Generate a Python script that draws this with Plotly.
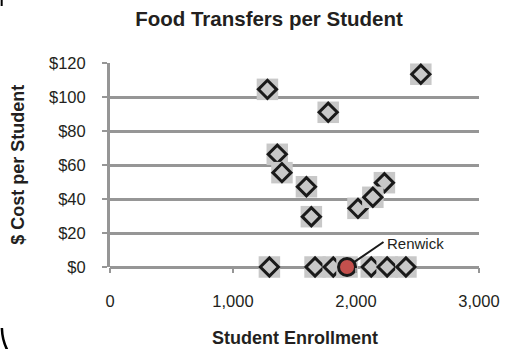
import plotly.graph_objects as go

# Enrollment vs. food-transfer cost per student, one entry per school
enrollment = [1280, 1296, 1360, 1398, 1597, 1637, 1667, 1774, 1815, 1927,
              2016, 2231, 2137, 2124, 2253, 2406, 2527]
cost_per_student = [104.5, 0, 66.3, 55.5, 47.2, 29.6, 0, 91.0, 0, 0,
                    34.5, 49.6, 41.0, 0, 0, 0, 113.4]
school = ["", "", "", "", "", "", "", "", "", "Renwick",
          "", "", "", "", "", "", ""]

y_ticks = [0, 20, 40, 60, 80, 100, 120]
y_tick_text = ["$0", "$20", "$40", "$60", "$80", "$100", "$120"]
x_ticks = [0, 1000, 2000, 3000]
x_tick_text = ["0", "1,000", "2,000", "3,000"]

W, H = 512, 349
L, R, T, B = 110, 30, 63, 82
PW, PH = W - L - R, H - T - B

GRID = "#969696"
INK = "#231f20"
FONT = "Liberation Sans, Arial, sans-serif"


def px(x):
    return (x - L) / PW


def py(y):
    return (H - B - y) / PH


fig = go.Figure()

fig.update_layout(
    width=W, height=H, autosize=False,
    margin=dict(l=L, r=R, t=T, b=B, pad=0),
    paper_bgcolor="white", plot_bgcolor="white",
    font=dict(family=FONT, size=16, color=INK),
    title=dict(text="<b>Food Transfers per Student</b>", x=269 / W, xref="container",
               xanchor="center", y=1 - 19 / H, yref="container", yanchor="middle",
               font=dict(family=FONT, size=20.5, color=INK)),
    xaxis=dict(range=[0, 3000], tickvals=x_ticks, ticktext=x_tick_text,
               showgrid=False, zeroline=False, showline=False,
               ticks="outside", ticklen=5, tickwidth=2, tickcolor=GRID,
               ticklabelstandoff=14, tickfont=dict(size=16.5, color=INK)),
    yaxis=dict(range=[0, 120], tickvals=y_ticks, ticktext=y_tick_text,
               showgrid=True, gridcolor=GRID, gridwidth=2.5,
               zeroline=True, zerolinecolor=GRID, zerolinewidth=2.5,
               showline=True, linecolor=GRID, linewidth=3,
               ticks="outside", ticklen=5, tickwidth=2, tickcolor=GRID,
               ticklabelstandoff=13, tickfont=dict(size=16.5, color=INK)),
    shapes=[
        # rounded frame corners peeking in at the left edge
        dict(type="path", xref="paper", yref="paper",
             path=f"M {px(1)},{py(328)} Q {px(1.5)},{py(345)} {px(11)},{py(357)}",
             line=dict(color="black", width=2.5)),
        dict(type="line", xref="paper", yref="paper",
             x0=px(0.8), y0=py(6), x1=px(0.8), y1=py(-2),
             line=dict(color="black", width=2)),
    ],
)

# axis titles
fig.add_annotation(text="<b>$ Cost per Student</b>", xref="paper", yref="paper",
                   x=px(17), y=0.5, xanchor="center", yanchor="middle",
                   textangle=-90, showarrow=False,
                   font=dict(family=FONT, size=18, color=INK))
fig.add_annotation(text="<b>Student Enrollment</b>", xref="paper", yref="paper",
                   x=px(296), y=py(338), xanchor="center", yanchor="middle",
                   showarrow=False, font=dict(family=FONT, size=18, color=INK))

# each school: grey backing square, then its marker on top
for x, y, name in zip(enrollment, cost_per_student, school):
    fig.add_trace(go.Scatter(
        x=[x], y=[y], mode="markers", hoverinfo="skip", showlegend=False,
        marker=dict(symbol="square", size=21.5, color="#c8c8c8", line=dict(width=0)),
        cliponaxis=False))
    if name:
        fig.add_trace(go.Scatter(
            x=[x], y=[y], mode="markers", name=name, showlegend=False,
            marker=dict(symbol="circle", size=17, color="#c4504d",
                        line=dict(color="#1a1a1a", width=3)),
            cliponaxis=False))
        fig.add_annotation(x=x, y=y, text="", showarrow=True, arrowhead=0,
                           arrowwidth=2, arrowcolor="#1a1a1a", ax=38, ay=-26,
                           standoff=9)
        fig.add_annotation(x=x, y=y, text=name, showarrow=False, xanchor="left",
                           yanchor="middle", xshift=38, yshift=24,
                           font=dict(family=FONT, size=15, color=INK))
    else:
        fig.add_trace(go.Scatter(
            x=[x], y=[y], mode="markers", showlegend=False,
            marker=dict(symbol="diamond-open", size=14, color="#1a1a1a",
                        line=dict(color="#1a1a1a", width=3)),
            cliponaxis=False))

fig.write_html("out.html")
